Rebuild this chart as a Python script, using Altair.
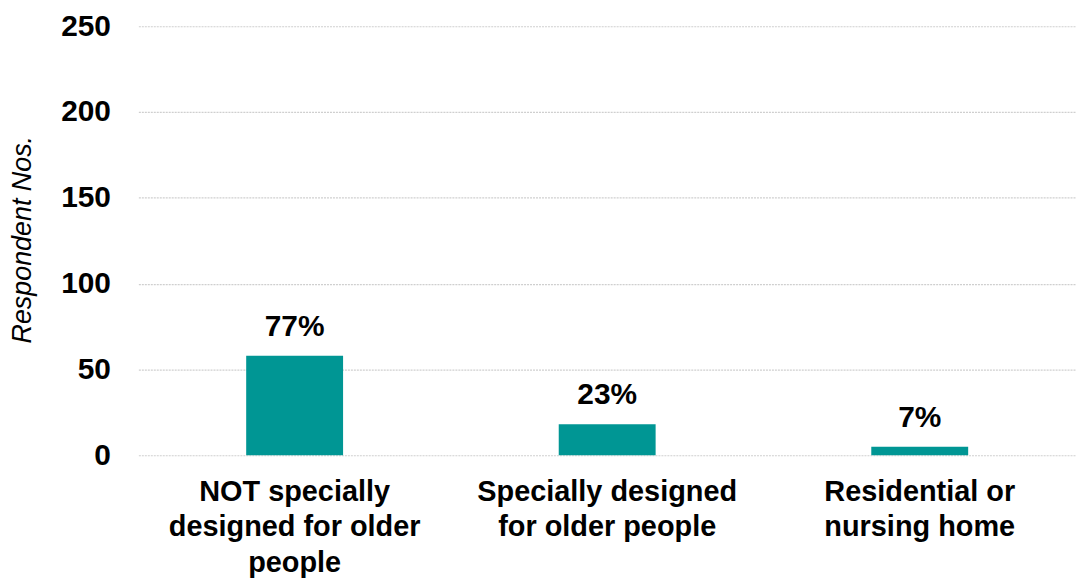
import altair as alt
import pandas as pd

categories = [
    "NOT specially designed for older people",
    "Specially designed for older people",
    "Residential or nursing home",
]
label_lines = [
    ["NOT specially", "designed for older", "people"],
    ["Specially designed", "for older people"],
    ["Residential or", "nursing home"],
]
values = [58, 18, 5]
pct_labels = ["77%", "23%", "7%"]
y_ticks = [0, 50, 100, 150, 200, 250]

df = pd.DataFrame({"cat": categories, "val": values, "pct": pct_labels})

FONT = "Liberation Sans"
BAR = "#009694"

expr_parts = []
for c, lines in zip(categories, label_lines):
    arr = "[" + ", ".join("'" + l + "'" for l in lines) + "]"
    expr_parts.append(f"datum.value == '{c}' ? {arr} : ")
label_expr = "".join(expr_parts) + "datum.label"

x = alt.X(
    "cat:N",
    sort=categories,
    title=None,
    scale=alt.Scale(paddingInner=0.69, paddingOuter=0.345),
    axis=alt.Axis(
        labelExpr=label_expr,
        labelAngle=0,
        labelFont=FONT,
        labelFontSize=29,
        labelFontWeight="bold",
        labelColor="#000000",
        labelLineHeight=36,
        labelPadding=22,
        ticks=False,
        domain=False,
        grid=False,
        labelLimit=400,
    ),
)

y = alt.Y(
    "val:Q",
    scale=alt.Scale(domain=[0, 250], nice=False),
    axis=alt.Axis(
        values=y_ticks,
        title="Respondent  Nos.",
        titleFont=FONT,
        titleFontSize=27,
        titleFontStyle="italic",
        titleFontWeight="normal",
        titleColor="#000000",
        titleAngle=270,
        titleX=-116,
        titleY=214,
        titleAlign="center",
        titleBaseline="middle",
        labelFont=FONT,
        labelFontSize=30,
        labelFontWeight="bold",
        labelColor="#000000",
        labelPadding=28,
        ticks=False,
        domain=False,
        grid=True,
        gridColor="#cfcfcf",
        gridDash=[2, 1],
        gridWidth=1.2,
    ),
)

bars = alt.Chart(df).mark_bar(color=BAR).encode(x=x, y=y)
text = alt.Chart(df).mark_text(
    font=FONT, fontSize=30, fontWeight="bold", color="#000000",
    baseline="alphabetic", dy=-20,
).encode(x=alt.X("cat:N", sort=categories), y="val:Q", text="pct:N")

chart = (
    alt.layer(bars, text)
    .properties(
        width=942,
        height=431,
        autosize=alt.AutoSizeParams(type="none"),
        padding={"left": 139, "top": 25, "right": 0, "bottom": 129},
        background="#ffffff",
    )
    .configure_view(stroke=None)
)

chart.save("out.html", embed_options={"renderer": "svg", "actions": False})
